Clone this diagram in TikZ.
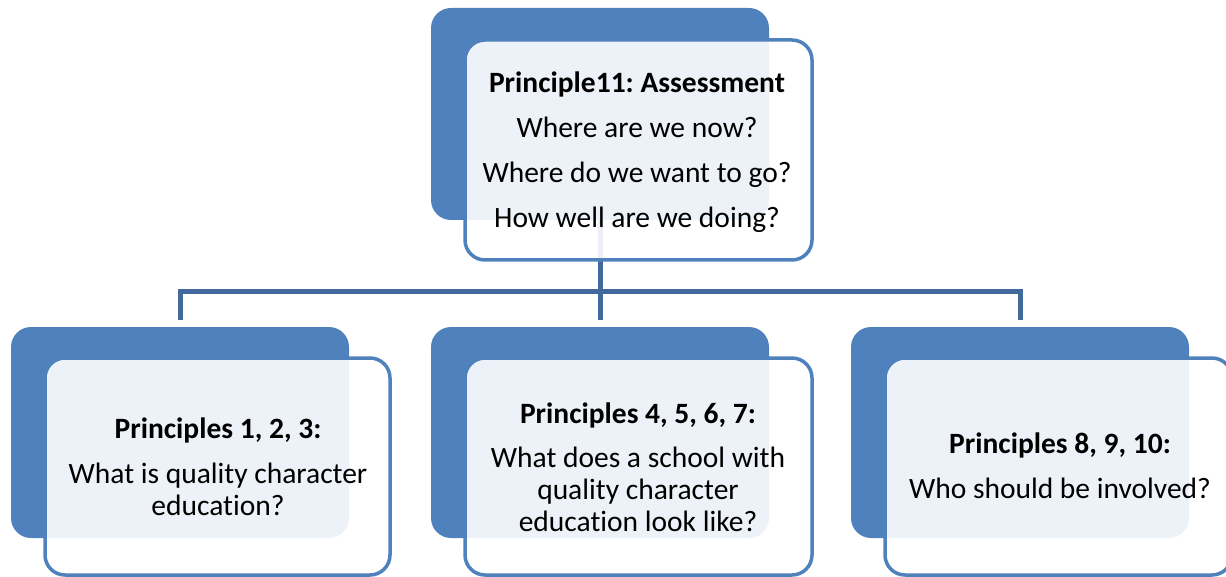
\documentclass[tikz,border=0pt]{standalone}
\usepackage{fontspec}
\setmainfont{Carlito}[Ligatures={NoCommon}]
\frenchspacing
\definecolor{backblue}{HTML}{4F81BD}
\definecolor{lineblue}{HTML}{41699B}
\begin{document}
\begin{tikzpicture}[x=1pt,y=-1pt,
  backbox/.style={fill=backblue, draw=none, rounded corners=20pt},
  frontbox/.style={fill=white, fill opacity=0.9, draw=backblue, line width=3.5pt, rounded corners=20pt},
  conn/.style={draw=lineblue, line width=5pt},
  txt/.style={align=center, inner sep=0pt, anchor=north, font=\fontsize{29.5}{32}\selectfont\frenchspacing, text=black}]
\useasboundingbox (0,0) rectangle (1226,577);
% back boxes
\path[backbox] (431,8) rectangle (769,220);
\coordinate (tb) at (600,220);
\path[backbox] (11,327) rectangle (349,538);
\path[backbox] (431,327) rectangle (769,538);
\path[backbox] (851,327) rectangle (1189,538);
\coordinate (c1) at (180,320);
\coordinate (c2) at (600,320);
\coordinate (c3) at (1020,320);
\coordinate (bar) at (600,292);
% connectors
\draw[conn] (tb) -- (bar);
\draw[conn] (c1) |- (bar) -| (c3);
\draw[conn] (bar) -- (c2);
% front boxes
\path[frontbox] (465,40) rectangle (812,260);
\path[frontbox] (45,358) rectangle (390,575);
\path[frontbox] (465,358) rectangle (812,575);
\path[frontbox] (885,358) rectangle (1232,575);
% texts
\node[txt] (t0) at (637,71.6) {\textbf{Principle11: Assessment}\\[13pt]Where are we now?\\[13pt]Where do we want to go?\\[13pt]How well are we doing?};
\node[txt] (t1) at (218,417.6) {\textbf{Principles 1, 2, 3:}\\[13pt]What is quality character\\education?};
\node[txt] (t2) at (638,402.6) {\textbf{Principles 4, 5, 6, 7:}\\[12pt]What does a school with\\quality character\\education look like?};
\node[txt] (t3) at (1060,432.6) {\textbf{Principles 8, 9, 10:}\\[13pt]Who should be involved?};
\end{tikzpicture}
\end{document}
